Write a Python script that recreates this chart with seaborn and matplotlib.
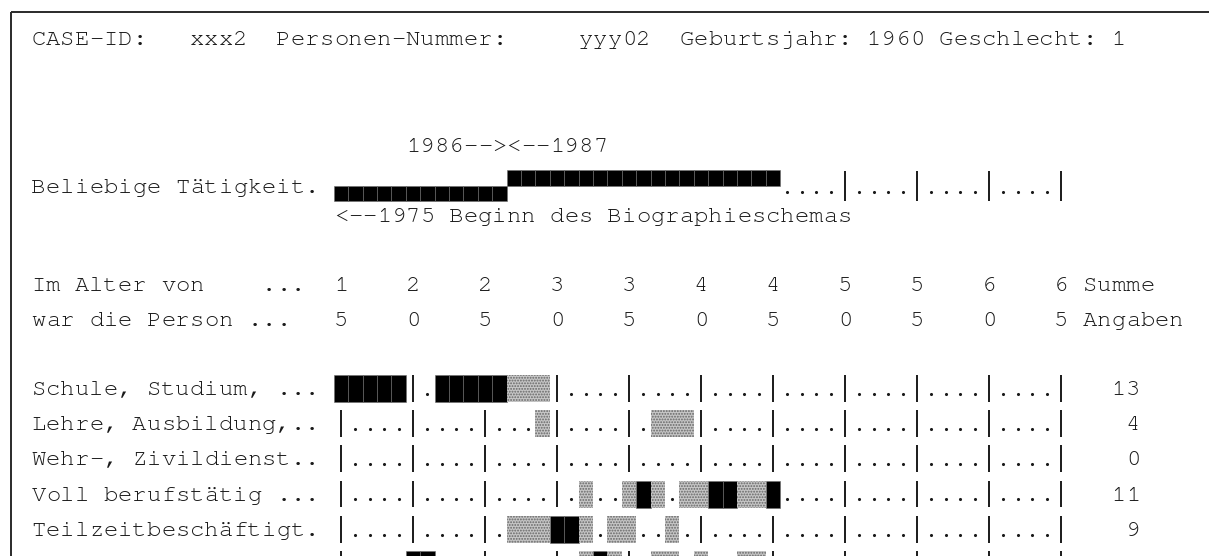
import matplotlib
matplotlib.use("Agg")
import matplotlib.pyplot as plt
from matplotlib import font_manager
import seaborn as sns
import pandas as pd

# ---------------- data ----------------
case_id = "xxx2"
person_id = "yyy02"
birth_year = 1960
sex_code = 1
schema_start_year = 1975
split_years = [1986, 1987]
age_first, age_last = 15, 65
tick_ages = [15, 20, 25, 30, 35, 40, 45, 50, 55, 60, 65]

activity_before_ages = list(range(15, 27))   # years up to 1986
activity_after_ages = list(range(27, 46))    # years from 1987 on

row_labels = ["Schule, Studium, ...", "Lehre, Ausbildung,..", "Wehr-, Zivildienst..",
              "Voll berufstätig ...", "Teilzeitbeschäftigt.", ""]
full_ages = [
    [15, 16, 17, 18, 19, 22, 23, 24, 25, 26],
    [],
    [],
    [36, 41, 42, 45],
    [30, 31],
    [20, 21, 33],
]
part_ages = [
    [27, 28, 29],
    [29, 37, 38, 39],
    [],
    [32, 35, 37, 39, 40, 43, 44],
    [27, 28, 29, 32, 34, 35, 38],
    [32, 34, 37, 38, 40, 43, 44],
]
row_sums = [13, 4, 0, 11, 9, None]

# ---------------- layout ----------------
FIG_W, FIG_H = 1209, 556
CW, X0 = 14.4, 31.4          # character cell width (px), left text margin (px)
GRID_COL = 21
SUM_COL = 76
TC = "#1a1a1a"

bl_title, bl_years, bl_activity, bl_start = 45, 152, 193, 222
bl_age1, bl_age2 = 291, 326
bl_rows0, row_pitch = 395, 35.2

sns.set_theme(style="white")

installed = {f.name for f in font_manager.fontManager.ttflist}
FONT, FS = "Liberation Mono", 16
for cand in ["Courier New", "Nimbus Mono PS", "Nimbus Mono L", "FreeMono"]:
    if cand in installed:
        FONT, FS = cand, 17.2
        break
plt.rcParams["font.family"] = [FONT, "DejaVu Sans"]
plt.rcParams["hatch.linewidth"] = 0.9

fig = plt.figure(figsize=(FIG_W / 100, FIG_H / 100), dpi=100)
ax = fig.add_axes([0, 0, 1, 1])


def age_col(a):
    return GRID_COL + a - age_first


def put(col, base, s, color=TC):
    for i, ch in enumerate(s):
        if ch != " ":
            ax.text(col + i + 0.5, base, ch, ha="center", va="baseline",
                    fontsize=FS, family=[FONT, "DejaVu Sans"], color=color)


# frame (top and left edges)
ax.plot([-20.4 / CW, (FIG_W + 5 - X0) / CW], [12, 12], color="#2a2a2a", lw=1.4, solid_capstyle="butt")
ax.plot([-20.4 / CW, -20.4 / CW], [12, FIG_H + 5], color="#2a2a2a", lw=1.4, solid_capstyle="butt")

# header line
header_fields = [("CASE-ID:", 0), (case_id, 11), ("Personen-Nummer:", 17), (person_id, 38),
                 ("Geburtsjahr:", 45), (str(birth_year), 58), ("Geschlecht:", 63), (str(sex_code), 75)]
for txt, c in header_fields:
    put(c, bl_title, txt)

# year markers
split_col = age_col(split_years[0] - birth_year)
put(split_col - 6, bl_years, f"{split_years[0]}--><--{split_years[1]}")
put(age_col(schema_start_year - birth_year), bl_start, f"<--{schema_start_year} Beginn des Biographieschemas")

dots = []
seps = []

# activity row (half blocks)
put(0, bl_activity, "Beliebige Tätigkeit.")
b = bl_activity
ax.bar([age_col(a) for a in activity_before_ages], 14.5, bottom=b - 7, width=1, align="edge",
       color="black", edgecolor="#6e6e6e", linewidth=0.4)
ax.bar([age_col(a) for a in activity_after_ages], 16, bottom=b - 23, width=1, align="edge",
       color="black", edgecolor="#6e6e6e", linewidth=0.4)
covered = set(activity_before_ages) | set(activity_after_ages)
for a in range(age_first, age_last + 1):
    if a in covered:
        continue
    if a in tick_ages:
        seps.append((age_col(a) + 0.5, b - 22.5, b + 7.5))
    else:
        dots.append((age_col(a) + 0.5, b - 1.3))

# age header
put(0, bl_age1, "Im Alter von    ...")
put(0, bl_age2, "war die Person ...")
for a in tick_ages:
    put(age_col(a), bl_age1, str(a)[0])
    put(age_col(a), bl_age2, str(a)[1])
put(73, bl_age1, "Summe")
put(73, bl_age2, "Angaben")

# episode rows
for i, (lab, fa, pa, sm) in enumerate(zip(row_labels, full_ages, part_ages, row_sums)):
    b = bl_rows0 + i * row_pitch
    put(0, b, lab)
    top, h = b - 20, 27.2
    if fa:
        ax.bar([age_col(a) for a in fa], h, bottom=top, width=1, align="edge",
               color="black", edgecolor="#6e6e6e", linewidth=0.4)
    if pa:
        ax.bar([age_col(a) for a in pa], h, bottom=top, width=1, align="edge",
               color="#c6c6c6", edgecolor="#666666", linewidth=0, hatch="......")
    covered = set(fa) | set(pa)
    for a in range(age_first, age_last + 1):
        if a in covered:
            continue
        if a in tick_ages:
            seps.append((age_col(a) + 0.5, b - 20, b + 6.8))
        else:
            dots.append((age_col(a) + 0.5, b - 1.3))
    if sm is not None:
        s = str(sm)
        put(SUM_COL - len(s) + 1, b, s)

sep_df = pd.DataFrame(seps, columns=["x", "y0", "y1"])
ax.vlines(sep_df["x"], sep_df["y0"], sep_df["y1"], colors="#1a1a1a", linewidth=1.4)

dot_df = pd.DataFrame(dots, columns=["x", "y"])
sns.scatterplot(data=dot_df, x="x", y="y", ax=ax, s=5, color="#1a1a1a",
                linewidth=0, marker="o", legend=False)
ax.set_xlim(-X0 / CW, (FIG_W - X0) / CW)
ax.set_ylim(FIG_H, 0)
ax.axis("off")

fig.savefig("out.png", dpi=100, facecolor="white")
